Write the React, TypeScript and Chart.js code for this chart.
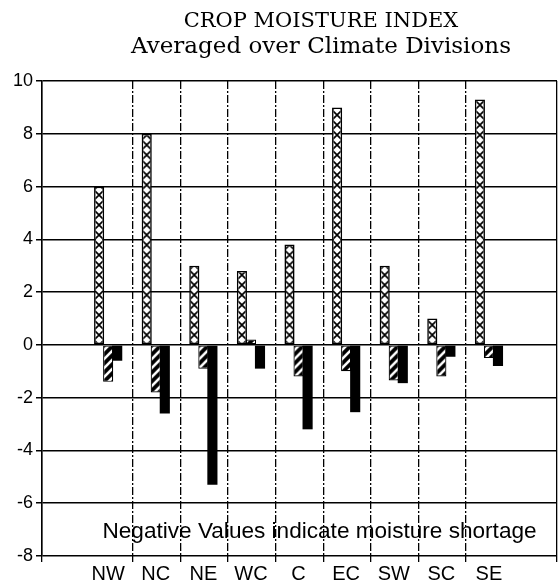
import React, { useEffect, useRef } from 'react';
import { Chart, registerables } from 'chart.js';

Chart.register(...registerables);

const categories = ['NW', 'NC', 'NE', 'WC', 'C', 'EC', 'SW', 'SC', 'SE'];
const crossHatched = [6.0, 8.0, 3.0, 2.8, 3.8, 9.0, 3.0, 1.0, 9.3];
const diagonalHatched = [-1.4, -1.8, -0.9, 0.2, -1.2, -1.0, -1.35, -1.2, -0.5];
const solidBlack = [-0.6, -2.6, -5.3, -0.9, -3.2, -2.55, -1.45, -0.45, -0.8];
const yTicks = [-8, -6, -4, -2, 0, 2, 4, 6, 8, 10];
const titleLines = ['CROP MOISTURE INDEX', 'Averaged over Climate Divisions'];
const noteText = 'Negative Values indicate moisture shortage';

const X_MIN = -1.39;
const X_MAX = 9.43;
const SANS = '"Liberation Sans", Arial, sans-serif';
const SERIF = '"DejaVu Serif", serif';

function makeCrossTile(): HTMLCanvasElement {
  const c = document.createElement('canvas');
  c.width = 10;
  c.height = 10;
  const g = c.getContext('2d')!;
  g.fillStyle = '#fff';
  g.fillRect(0, 0, 10, 10);
  g.strokeStyle = '#000';
  g.lineWidth = 1.7;
  g.beginPath();
  g.moveTo(0, 0);
  g.lineTo(10, 10);
  g.moveTo(10, 0);
  g.lineTo(0, 10);
  g.stroke();
  return c;
}

function makeDiagTile(): HTMLCanvasElement {
  const c = document.createElement('canvas');
  c.width = 9;
  c.height = 9;
  const g = c.getContext('2d')!;
  g.fillStyle = '#000';
  g.fillRect(0, 0, 9, 9);
  g.strokeStyle = '#fff';
  g.lineWidth = 2.6;
  g.beginPath();
  g.moveTo(-2, 11);
  g.lineTo(11, -2);
  g.moveTo(-11, 11);
  g.lineTo(2, -2);
  g.moveTo(7, 11);
  g.lineTo(20, -2);
  g.stroke();
  return c;
}

export default function App() {
  const ref = useRef<HTMLCanvasElement | null>(null);

  useEffect(() => {
    const canvas = ref.current;
    if (!canvas) return;
    const crossTile = makeCrossTile();
    const diagTile = makeDiagTile();

    const patternPlugin = {
      id: 'patternFill',
      beforeDatasetsDraw(chart: any) {
        const ctx = chart.ctx as CanvasRenderingContext2D;
        const tiles = [crossTile, diagTile];
        [0, 1].forEach((di) => {
          const meta = chart.getDatasetMeta(di);
          meta.data.forEach((el: any) => {
            const p = ctx.createPattern(tiles[di], 'repeat');
            if (!p) return;
            const left = el.x - el.width / 2;
            p.setTransform(new DOMMatrix([1, 0, 0, 1, left, 0]));
            el.options = { ...el.options, backgroundColor: p };
          });
        });
      },
    };

    const textPlugin = {
      id: 'texts',
      afterDraw(chart: any) {
        const ctx = chart.ctx as CanvasRenderingContext2D;
        const xs = chart.scales.x;
        const ys = chart.scales.y;
        ctx.save();
        ctx.fillStyle = '#000';
        ctx.textAlign = 'center';
        ctx.textBaseline = 'alphabetic';
        ctx.font = '21px ' + SERIF;
        ctx.fillText(titleLines[0], 321, 27);
        ctx.font = '23px ' + SERIF;
        ctx.fillText(titleLines[1], 321, 53);
        ctx.textAlign = 'left';
        ctx.font = '22.6px ' + SANS;
        ctx.fillText(noteText, xs.getPixelForValue(-0.12), ys.getPixelForValue(-7.32));
        ctx.restore();
      },
    };

    const chart = new Chart(canvas, {
      type: 'bar',
      data: {
        datasets: [
          {
            label: 'cross',
            data: categories.map((_, i) => ({ x: i, y: crossHatched[i] })),
            backgroundColor: '#fff',
            borderColor: '#000',
            borderWidth: 1.6,
            borderSkipped: false,
          },
          {
            label: 'diagonal',
            data: categories.map((_, i) => ({ x: i, y: diagonalHatched[i] })),
            backgroundColor: '#000',
            borderColor: '#000',
            borderWidth: 1.2,
            borderSkipped: false,
          },
          {
            label: 'solid',
            data: categories.map((_, i) => ({ x: i, y: solidBlack[i] })),
            backgroundColor: '#000',
            borderColor: '#000',
            borderWidth: 0,
          },
        ],
      } as any,
      options: {
        animation: false,
        responsive: false,
        devicePixelRatio: 1,
        categoryPercentage: 0.57,
        barPercentage: 1.12,
        layout: { padding: { top: 81, left: 0, right: 2, bottom: 0 } },
        plugins: {
          legend: { display: false },
          title: { display: false },
          tooltip: { enabled: false },
        },
        scales: {
          x: {
            type: 'linear',
            position: 'bottom',
            min: X_MIN,
            max: X_MAX,
            offset: false,
            weight: 1,
            grid: { display: false, offset: false },
            border: { display: false },
            afterBuildTicks: (s: any) => {
              s.ticks = categories.map((_, i) => ({ value: i }));
            },
            afterFit: (s: any) => {
              s.height = 21;
            },
            ticks: {
              autoSkip: false,
              maxRotation: 0,
              minRotation: 0,
              padding: -8,
              color: '#000',
              font: { family: SANS, size: 20 },
              callback: (v: any) => categories[v as number] ?? '',
            },
          },
          x2: {
            type: 'linear',
            position: 'bottom',
            min: X_MIN,
            max: X_MAX,
            offset: false,
            weight: 0,
            afterBuildTicks: (s: any) => {
              const vals = [X_MIN];
              for (let i = 0; i < categories.length - 1; i++) vals.push(i + 0.52);
              vals.push(X_MAX);
              s.ticks = vals.map((v) => ({ value: v }));
            },
            afterFit: (s: any) => {
              s.height = 6;
            },
            grid: {
              display: true,
              offset: false,
              color: '#000',
              lineWidth: 1.3,
              tickLength: 6,
              tickColor: '#000',
              tickWidth: 1.3,
            },
            border: {
              display: false,
              dash: (c: any) =>
                c.tick && c.tick.value > X_MIN + 0.01 && c.tick.value < X_MAX - 0.01 ? [8, 2, 2, 2] : [],
            },
            ticks: { display: false },
          },
          y: {
            type: 'linear',
            min: -8,
            max: 10,
            afterBuildTicks: (s: any) => {
              s.ticks = yTicks.map((v) => ({ value: v }));
            },
            afterFit: (s: any) => {
              s.width = 42;
            },
            grid: {
              color: '#000',
              lineWidth: 1.5,
              tickLength: 6,
              tickColor: '#000',
            },
            border: { display: true, color: '#000', width: 1.5 },
            ticks: {
              padding: 3,
              color: '#000',
              font: { family: SANS, size: 18 },
            },
          },
        },
      } as any,
      plugins: [patternPlugin, textPlugin],
    });

    return () => {
      chart.destroy();
    };
  }, []);

  return (
    <div style={{ position: 'absolute', left: 0, top: 0, width: 559, height: 583, background: '#fff' }}>
      <canvas ref={ref} width={559} height={583} style={{ display: 'block' }} />
    </div>
  );
}
